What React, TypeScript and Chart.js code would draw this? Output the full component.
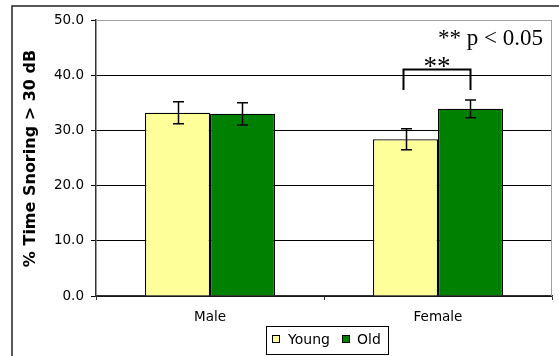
import React, { useEffect, useRef } from "react";
import { Chart, registerables } from "chart.js";

Chart.register(...registerables);

const categories = ["Male", "Female"];
const seriesNames = ["Young", "Old"];
const youngValues = [33.2, 28.4];
const oldValues = [33.0, 33.9];
const youngErrors = [2.0, 1.9];
const oldErrors = [2.0, 1.6];
const yMin = 0;
const yMax = 50;
const yStep = 10;
const yTitle = "% Time Snoring > 30 dB";
const sigLabel = "**";
const pLabel = "** p < 0.05";
const bracketTop = 41.1;
const bracketBottom = 37.3;
const seriesColors = ["#FFFF99", "#008000"];
const errorsBySeries = [youngErrors, oldErrors];

const decor = {
  id: "decor",
  beforeDraw(chart: any) {
    const { ctx } = chart;
    ctx.save();
    ctx.fillStyle = "#ffffff";
    ctx.fillRect(0, 0, chart.width, chart.height);
    ctx.restore();
  },
  beforeDatasetsDraw(chart: any) {
    const { ctx, chartArea: a } = chart;
    ctx.save();
    ctx.strokeStyle = "#a0a0a0";
    ctx.lineWidth = 1;
    ctx.beginPath();
    ctx.moveTo(a.left, a.top + 0.5);
    ctx.lineTo(a.right - 0.5, a.top + 0.5);
    ctx.lineTo(a.right - 0.5, a.bottom);
    ctx.stroke();
    ctx.restore();
  },
  afterDatasetsDraw(chart: any) {
    const { ctx } = chart;
    const yScale = chart.scales.y;
    ctx.save();
    ctx.strokeStyle = "#000";
    ctx.lineWidth = 1.5;
    chart.data.datasets.forEach((ds: any, di: number) => {
      const meta = chart.getDatasetMeta(di);
      meta.data.forEach((bar: any, i: number) => {
        const v = ds.data[i];
        const e = errorsBySeries[di][i];
        const x = Math.round(bar.x) + 0.5;
        const yHi = yScale.getPixelForValue(v + e);
        const yLo = yScale.getPixelForValue(v - e);
        const cap = 5.5;
        ctx.beginPath();
        ctx.moveTo(x, yHi);
        ctx.lineTo(x, yLo);
        ctx.moveTo(x - cap, yHi);
        ctx.lineTo(x + cap, yHi);
        ctx.moveTo(x - cap, yLo);
        ctx.lineTo(x + cap, yLo);
        ctx.stroke();
      });
    });
    ctx.restore();
  },
  afterDraw(chart: any) {
    const { ctx, chartArea: a } = chart;
    const yScale = chart.scales.y;
    ctx.save();
    // outer frame (left and top)
    ctx.strokeStyle = "#222";
    ctx.lineWidth = 1.5;
    ctx.beginPath();
    ctx.moveTo(12, chart.height);
    ctx.lineTo(12, 6);
    ctx.lineTo(chart.width, 6);
    ctx.stroke();

    // y title
    ctx.save();
    ctx.translate(35, (a.top + a.bottom) / 2 + 0.5);
    ctx.rotate(-Math.PI / 2);
    ctx.font = "bold 16px 'DejaVu Sans'";
    ctx.fillStyle = "#000";
    ctx.textAlign = "center";
    ctx.textBaseline = "alphabetic";
    ctx.fillText(yTitle, 0, 0);
    ctx.restore();

    // significance bracket between Female bars
    const m0 = chart.getDatasetMeta(0).data[1];
    const m1 = chart.getDatasetMeta(1).data[1];
    const x0 = Math.round(m0.x) - 2.5;
    const x1 = Math.round(m1.x) + 0.5;
    const yT = Math.round(yScale.getPixelForValue(bracketTop)) + 0.5;
    const yB = yScale.getPixelForValue(bracketBottom);
    ctx.strokeStyle = "#000";
    ctx.lineWidth = 2;
    ctx.beginPath();
    ctx.moveTo(x0, yB);
    ctx.lineTo(x0, yT);
    ctx.lineTo(x1, yT);
    ctx.lineTo(x1, yB);
    ctx.stroke();
    ctx.fillStyle = "#000";
    ctx.font = "27px 'Liberation Serif'";
    ctx.textAlign = "center";
    ctx.textBaseline = "alphabetic";
    ctx.fillText(sigLabel, (x0 + x1) / 2, yT + 5);

    // p-value note
    ctx.font = "23px 'Liberation Serif'";
    ctx.textAlign = "right";
    ctx.fillText(pLabel, a.right - 9, a.top + 25);

    // legend
    const lx = 266, ly = 326, lw = 122, lh = 28;
    ctx.fillStyle = "#fff";
    ctx.fillRect(lx, ly, lw, lh);
    ctx.strokeStyle = "#000";
    ctx.lineWidth = 1;
    ctx.strokeRect(lx + 0.5, ly + 0.5, lw, lh);
    const items = [
      { sx: 272, tx: 288 },
      { sx: 342, tx: 357 },
    ];
    ctx.font = "14px 'DejaVu Sans'";
    ctx.textAlign = "left";
    ctx.textBaseline = "middle";
    chart.data.datasets.forEach((ds: any, i: number) => {
      const it = items[i];
      ctx.fillStyle = ds.backgroundColor;
      ctx.fillRect(it.sx, 335, 7, 7);
      ctx.strokeStyle = "#000";
      ctx.strokeRect(it.sx + 0.5, 335.5, 7, 7);
      ctx.fillStyle = "#000";
      ctx.fillText(ds.label, it.tx, 340);
    });
    ctx.restore();
  },
};

export default function App() {
  const ref = useRef<HTMLCanvasElement>(null);
  useEffect(() => {
    if (!ref.current) return;
    const chart = new Chart(ref.current, {
      type: "bar",
      data: {
        labels: categories,
        datasets: [
          {
            label: seriesNames[0],
            data: youngValues,
            backgroundColor: seriesColors[0],
            borderColor: "#000",
            borderWidth: 1.2,
            barPercentage: 1,
            categoryPercentage: 0.57,
          },
          {
            label: seriesNames[1],
            data: oldValues,
            backgroundColor: seriesColors[1],
            borderColor: "#000",
            borderWidth: 1.2,
            barPercentage: 1,
            categoryPercentage: 0.57,
          },
        ],
      },
      options: {
        responsive: false,
        animation: false,
        devicePixelRatio: 1,
        layout: { padding: { top: 20, left: 0, right: 7, bottom: 0 } },
        plugins: {
          legend: { display: false },
          tooltip: { enabled: false },
        },
        scales: {
          x: {
            offset: true,
            grid: {
              display: true,
              drawOnChartArea: false,
              offset: true,
              tickLength: 4,
              tickColor: "#333",
            },
            border: { display: true, color: "#333", width: 1.5 },
            ticks: {
              color: "#000",
              font: { family: "DejaVu Sans", size: 13.5 },
              padding: 9,
            },
            afterFit: (s: any) => {
              s.height = 60;
            },
          },
          y: {
            min: yMin,
            max: yMax,
            ticks: {
              stepSize: yStep,
              color: "#000",
              font: { family: "DejaVu Sans", size: 13.5 },
              padding: 7,
              callback: (v: any) => Number(v).toFixed(1),
            },
            grid: {
              color: (c: any) => (c.tick && c.tick.value === yMax ? "#a0a0a0" : "#000"),
              tickColor: "#000",
              tickLength: 5,
              lineWidth: 1,
            },
            border: { display: true, color: "#333", width: 1.5 },
            afterFit: (s: any) => {
              s.width = 96;
            },
          },
        },
      },
      plugins: [decor],
    });
    return () => chart.destroy();
  }, []);
  return (
    <div style={{ position: "absolute", left: 0, top: 0, width: 559, height: 356 }}>
      <canvas ref={ref} width={559} height={356} style={{ width: 559, height: 356, display: "block" }} />
    </div>
  );
}
